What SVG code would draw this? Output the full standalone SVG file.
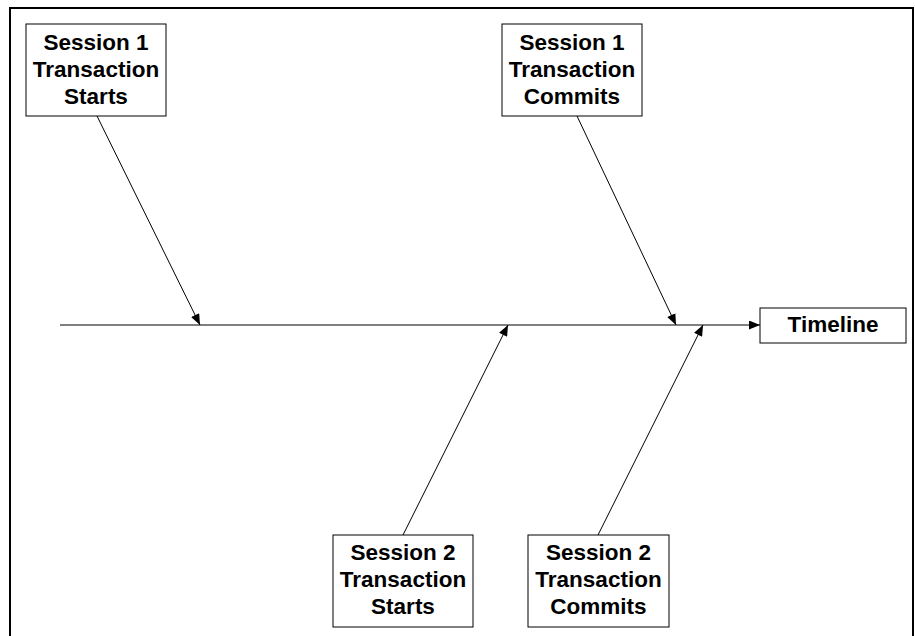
<svg xmlns="http://www.w3.org/2000/svg" width="915" height="636" viewBox="0 0 915 636">
<style>
.box{fill:#fff;stroke:#000;stroke-width:1}
.t{font-family:"Liberation Sans",Arial,sans-serif;font-weight:bold;font-size:22.5px;text-anchor:middle;fill:#000}
.c{stroke:#000;stroke-width:1;fill:none;marker-end:url(#ah)}
</style>
<defs>
<marker id="ah" viewBox="0 0 11 9" refX="11" refY="4.5" markerWidth="11" markerHeight="9" markerUnits="userSpaceOnUse" orient="auto">
<path d="M0,0 L11,4.5 L0,9 Z" fill="#000"/>
</marker>
</defs>
<rect width="915" height="636" fill="#fff"/>
<rect x="10" y="8" width="903" height="640" fill="none" stroke="#000" stroke-width="2"/>
<g id="connectors">
<line class="c" x1="60" y1="325" x2="760" y2="325"/>
<line class="c" x1="97" y1="116" x2="200" y2="325"/>
<line class="c" x1="577" y1="116" x2="676" y2="325"/>
<line class="c" x1="403" y1="535" x2="508" y2="325"/>
<line class="c" x1="598" y1="535" x2="703" y2="325"/>
</g>
<g id="s1start">
<rect class="box" x="26" y="24" width="140" height="92"/>
<text class="t" x="96" y="50">Session 1</text>
<text class="t" x="96" y="77">Transaction</text>
<text class="t" x="96" y="104">Starts</text>
</g>
<g id="s1commit">
<rect class="box" x="502" y="24" width="140" height="92"/>
<text class="t" x="572" y="50">Session 1</text>
<text class="t" x="572" y="77">Transaction</text>
<text class="t" x="572" y="104">Commits</text>
</g>
<g id="timeline">
<rect class="box" x="760" y="308" width="146" height="35"/>
<text class="t" x="833" y="332">Timeline</text>
</g>
<g id="s2start">
<rect class="box" x="333" y="535" width="140" height="92"/>
<text class="t" x="403" y="560">Session 2</text>
<text class="t" x="403" y="587">Transaction</text>
<text class="t" x="403" y="614">Starts</text>
</g>
<g id="s2commit">
<rect class="box" x="528" y="535" width="141" height="92"/>
<text class="t" x="598.5" y="560">Session 2</text>
<text class="t" x="598.5" y="587">Transaction</text>
<text class="t" x="598.5" y="614">Commits</text>
</g>
</svg>
